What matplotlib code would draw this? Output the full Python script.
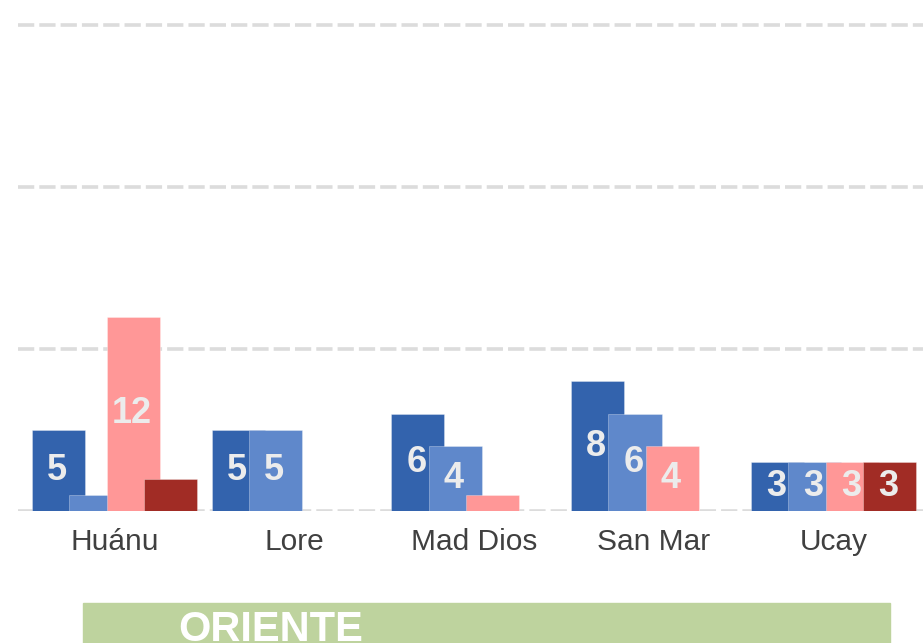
import numpy as np
import matplotlib.pyplot as plt
from matplotlib.patches import Rectangle

# data
regions = ["Huánu", "Lore", "Mad Dios", "San Mar", "Ucay"]
serie_1 = [5, 5, 6, 8, 3]
serie_2 = [1, 5, 4, 6, 3]
serie_3 = [12, 0, 1, 4, 3]
serie_4 = [2, 0, 0, 0, 3]
group_label = "ORIENTE"

colors = ["#3363ad", "#5f88cb", "#ff9797", "#a12c25"]
series = [serie_1, serie_2, serie_3, serie_4]

plt.rcParams['font.family'] = ['Liberation Sans', 'DejaVu Sans']

W, H = 923, 643
fig = plt.figure(figsize=(W / 100, H / 100), dpi=100)
# axes placed in pixels: left 18, baseline at y=511 from top
ax = fig.add_axes([18 / W, 132 / H, (W - 18) / W, 511 / H])

x = np.arange(len(regions))
step = 0.2086
width = 0.295
for k, (vals, c) in enumerate(zip(series, colors)):
    pos = x + (k - 1.5) * step
    ax.bar(pos, vals, width=width, color=c, edgecolor=(1, 1, 1, 0.35),
           linewidth=0.6, zorder=2 + k)

# value labels on top of all bars
for k, vals in enumerate(series):
    pos = x + (k - 1.5) * step
    for p, v in zip(pos, vals):
        if v >= 3:
            ax.text(p - 0.008, v / 2, str(v), ha='center', va='center',
                    fontsize=26, fontweight='bold', color='#ececec', zorder=10)

ax.set_xlim(-0.537, 4.498)
ax.set_ylim(0, 31.54)
ax.set_yticks([0, 10, 20, 30])
ax.yaxis.grid(True, color='#dcdcdc', linestyle=(0, (4.5, 1.4)), linewidth=2.6)
ax.set_axisbelow(True)
ax.tick_params(axis='y', left=False, labelleft=False)
ax.set_xticks(x)
ax.set_xticklabels(regions, fontsize=21.5, color='#404040')
ax.tick_params(axis='x', length=0, pad=12.5)
for s in ax.spines.values():
    s.set_visible(False)

# group band at the bottom
fig.patches.append(Rectangle((83 / W, 0), (890 - 83) / W, (643 - 603) / H,
                             transform=fig.transFigure, color='#bed39e',
                             zorder=0))
fig.text(178 / W, 1 - 641 / H, group_label, ha='left', va='baseline',
         fontsize=30, fontweight='bold', color='white')

fig.savefig('out.png', dpi=100)
